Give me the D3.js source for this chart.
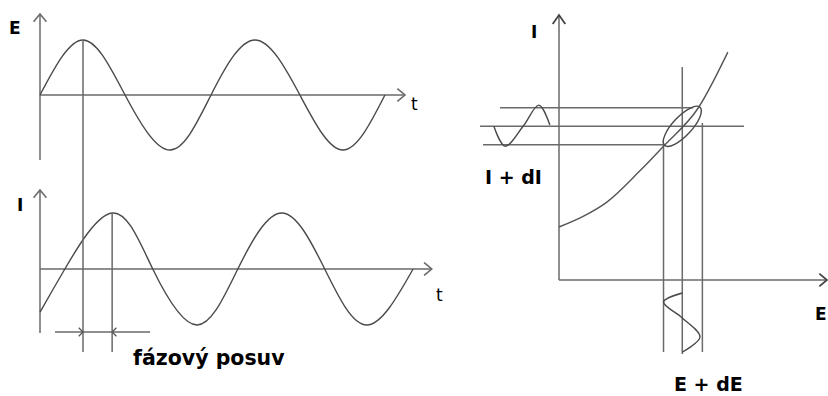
<!DOCTYPE html>
<html><head><meta charset="utf-8">
<script src="https://cdn.jsdelivr.net/npm/d3@7"></script>
<style>body{margin:0;background:#fff}svg{display:block}</style>
</head><body>
<svg id="c" width="828" height="396"></svg>
<script>
// ---- data ----
// left panel: phase in degrees of E, relative amplitude
const ePhase = [0, 90, 178, 272, 358, 450, 544, 634, 722];
const eValue = [0, 1, 0, -1, 0, 1, 0, -1, 0];
const iPhase = [0, 52, 151, 236, 329, 414, 506, 596, 684, 781];
const iValue = [-0.77, 0, 1, 0, -1, 0, 1, 0, -1, 0];
// right panel: I-E characteristic (arbitrary units 0..100)
const charE = [0, 9, 18, 30, 39, 52, 63];
const charI = [20, 24, 29.5, 41, 50.5, 65, 86];
const workPoint = [46, 58];
const dEBounds = [39, 53.5];
const dIBounds = [51, 65];
// small I(t) wave drawn left of the I axis
const iSineE = [-24.3, -20.1, -13.4, -7.5, -3.4];
const iSineI = [58, 50.5, 58, 66, 58.5];
// small E(t) wave drawn below the E axis
const eSineE = [46, 39, 46, 52.6, 46];
const eSineI = [-4.9, -8.3, -14.3, -21.5, -27.2];
const textLabels = ["E", "I", "t", "fázový posuv", "I + dI", "E + dE"];

// ---- drawing ----
const svg = d3.select("#c");
const AX = "#6a6a6a", CV = "#4a4a4a";
const FONT = "'DejaVu Sans', Verdana, sans-serif";

function seg(x1, y1, x2, y2, col = AX, w = 1.5) {
  svg.append("line").attr("x1", x1).attr("y1", y1).attr("x2", x2).attr("y2", y2)
    .attr("stroke", col).attr("stroke-width", w);
}
function chevron(x, y, ang, len = 10, half = 40, col = AX, w = 1.6) {
  const a = ang * Math.PI / 180, h = half * Math.PI / 180;
  const p1 = [x - len * Math.cos(a - h), y - len * Math.sin(a - h)];
  const p2 = [x - len * Math.cos(a + h), y - len * Math.sin(a + h)];
  svg.append("path").attr("d", `M${p1}L${x},${y}L${p2}`)
    .attr("fill", "none").attr("stroke", col).attr("stroke-width", w);
}
function label(t, x, y, size, bold = true) {
  svg.append("text").attr("x", x).attr("y", y).text(t)
    .attr("font-family", FONT).attr("font-size", size)
    .attr("font-weight", bold ? "bold" : "normal").attr("fill", "#000");
}

// left panel scales
const tX = d3.scaleLinear().domain([0, 764]).range([40, 405]);
const eY = d3.scaleLinear().domain([-1, 1]).range([150, 40]);
const iY = d3.scaleLinear().domain([-1, 1]).range([325, 213]);

// E(t) axes
seg(tX(0), 160, tX(0), 14); chevron(tX(0), 14, -90);
seg(tX(0), eY(0), tX(764), eY(0)); chevron(tX(764), eY(0), 0);
label(textLabels[0], 9, 34, 17);
label(textLabels[2], 411, 110, 17, false);
svg.append("path").datum(d3.zip(ePhase, eValue))
  .attr("d", d3.line().x(d => tX(d[0])).y(d => eY(d[1])).curve(d3.curveNatural))
  .attr("fill", "none").attr("stroke", CV).attr("stroke-width", 1.4);

// I(t) axes
seg(tX(0), 333, tX(0), 190); chevron(tX(0), 190, -90);
seg(tX(0), iY(0), tX(820), iY(0)); chevron(tX(820), iY(0), 0);
label(textLabels[1], 17, 211, 17);
label(textLabels[2], 436, 301, 17, false);
svg.append("path").datum(d3.zip(iPhase, iValue))
  .attr("d", d3.line().x(d => tX(d[0])).y(d => iY(d[1])).curve(d3.curveNatural))
  .attr("fill", "none").attr("stroke", CV).attr("stroke-width", 1.4);

// phase shift markers
const ePeak = ePhase[eValue.indexOf(1)], iPeak = iPhase[iValue.indexOf(1)];
seg(tX(ePeak), eY(1), tX(ePeak), 352);
seg(tX(iPeak), iY(1), tX(iPeak), 352);
seg(tX(ePeak) - 28, 332, tX(iPeak) + 38, 332);
chevron(tX(ePeak), 332, 0, 6, 45, "#555", 1.3);
chevron(tX(iPeak), 332, 180, 6, 45, "#555", 1.3);
label(textLabels[3], 133, 365, 20.5);

// right panel scales
const xE = d3.scaleLinear().domain([0, 100]).range([559, 827]);
const yI = d3.scaleLinear().domain([0, 100]).range([280, 15]);

seg(xE(0), yI(0), xE(0), yI(100)); chevron(xE(0), yI(100), -90, 11, 35, "#444", 1.8);
seg(xE(0), yI(0), xE(100), yI(0)); chevron(xE(100), yI(0), 0, 10, 40, "#444", 1.8);
label(textLabels[1], 531, 38, 17);
label(textLabels[0], 815, 320, 17);

const [E0, I0] = workPoint;
// guide lines
seg(500, yI(dIBounds[1]), xE(E0) + 11, yI(dIBounds[1]));
seg(480, yI(I0), 744, yI(I0));
seg(483, yI(dIBounds[0]), xE(dEBounds[0]), yI(dIBounds[0]));
seg(xE(dEBounds[0]), yI(dIBounds[0]), xE(dEBounds[0]), 352);
seg(xE(E0), 67, xE(E0), 354);
seg(xE(dEBounds[1]), 123, xE(dEBounds[1]), 352);

// characteristic
svg.append("path").datum(d3.zip(charE, charI))
  .attr("d", d3.line().x(d => xE(d[0])).y(d => yI(d[1])).curve(d3.curveMonotoneX))
  .attr("fill", "none").attr("stroke", "#555").attr("stroke-width", 1.4);

// working loop
svg.append("ellipse")
  .attr("cx", 0).attr("cy", 0).attr("rx", 26).attr("ry", 9.5)
  .attr("transform", `translate(${xE(E0)},${yI(I0)}) rotate(-47)`)
  .attr("fill", "none").attr("stroke", CV).attr("stroke-width", 1.4);

// small sines
svg.append("path").datum(d3.zip(iSineE, iSineI))
  .attr("d", d3.line().x(d => xE(d[0])).y(d => yI(d[1])).curve(d3.curveCatmullRom))
  .attr("fill", "none").attr("stroke", CV).attr("stroke-width", 1.4);
svg.append("path").datum(d3.zip(eSineE, eSineI))
  .attr("d", d3.line().x(d => xE(d[0])).y(d => yI(d[1])).curve(d3.curveCatmullRom))
  .attr("fill", "none").attr("stroke", CV).attr("stroke-width", 1.4);

label(textLabels[4], 485, 184, 19);
label(textLabels[5], 674, 391, 19);
</script>
</body></html>
